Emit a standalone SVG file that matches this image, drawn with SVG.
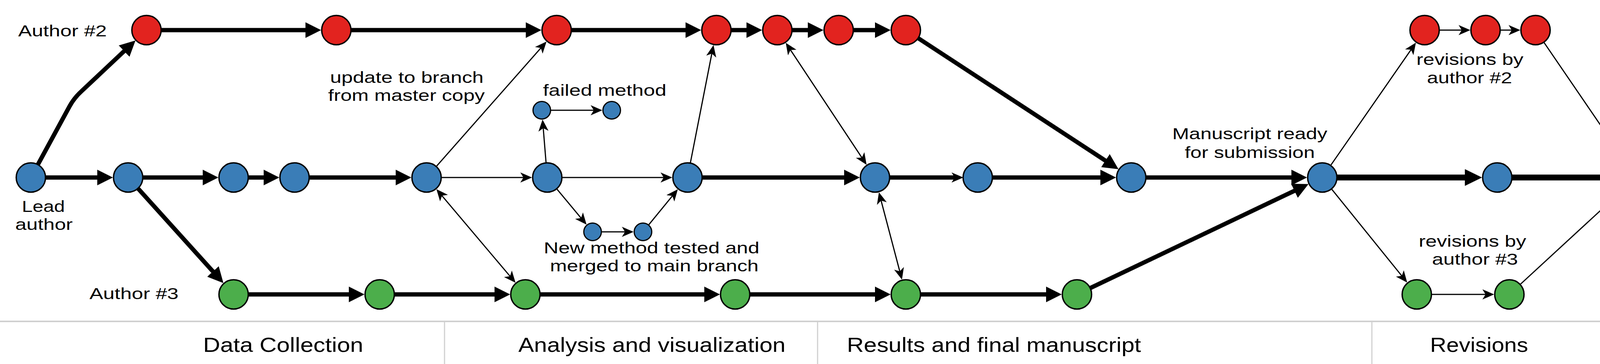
<svg xmlns="http://www.w3.org/2000/svg" width="4270" height="931" viewBox="0 0 4270 931">
<style>
.n{stroke:#000;stroke-width:3.5}
.sm{stroke:#000;stroke-width:3}
.red{fill:#E2231F}
.blue{fill:#3A7DB7}
.green{fill:#4CAE4B}
.thick{stroke:#000;stroke-width:11;fill:none;marker-end:url(#ah)}
.thickt{stroke:#000;stroke-width:11;fill:none;marker-end:url(#at)}
.rev{stroke:#000;stroke-width:15;fill:none;marker-end:url(#ar)}
.thin{stroke:#000;stroke-width:3;fill:none;marker-end:url(#at)}
.both{stroke:#000;stroke-width:3;fill:none;marker-end:url(#at);marker-start:url(#at)}
.sep{stroke:#d0d0d0;fill:none}
text{font-family:"Liberation Sans",Arial,sans-serif;fill:#000;text-anchor:middle}
.lbl{font-size:40.5px}
.sec{font-size:52px}
</style>
<defs>
<marker id="ah" markerUnits="userSpaceOnUse" markerWidth="40" markerHeight="40" refX="10" refY="20" orient="auto"><path d="M0,0 L40,20 L0,40 Z" fill="#000"/></marker>
<marker id="at" markerUnits="userSpaceOnUse" markerWidth="30" markerHeight="26" refX="8" refY="13" orient="auto-start-reverse"><path d="M0,0 L30,13 L0,26 L8,13 Z" fill="#000"/></marker>
<marker id="ar" markerUnits="userSpaceOnUse" markerWidth="44" markerHeight="43" refX="12" refY="21.5" orient="auto"><path d="M0,0 L44,21.5 L0,43 Z" fill="#000"/></marker>
</defs>

<g id="separators">
<line class="sep" x1="0" y1="822" x2="4270" y2="822" stroke-width="4"/>
<line class="sep" x1="1138" y1="822" x2="1138" y2="931" stroke-width="3"/>
<line class="sep" x1="2093" y1="822" x2="2093" y2="931" stroke-width="3"/>
<line class="sep" x1="3512" y1="822" x2="3512" y2="931" stroke-width="3"/>
</g>

<g id="connectors">
<path class="thick" d="M79,454 L178,272 Q190,250 209,233 L325,124"/>
<path class="thick" d="M79,454 L259,454"/>
<path class="thick" d="M328,454 L529,454"/>
<path class="thick" d="M598,454 L685,454"/>
<path class="thick" d="M754,454 L1023,454"/>
<path class="thick" d="M1760,454 L2171,454"/>
<path class="thickt" d="M2240,454 L2444,454"/>
<path class="thick" d="M2503,454 L2827,454"/>
<path class="thick" d="M2896,454 L3316,454"/>
<path class="rev" d="M3385,454 L3762,454"/>
<path class="rev" d="M3833,454 L4118,454"/>
<path class="thick" d="M375,77 L792,77"/>
<path class="thick" d="M861,77 L1356,77"/>
<path class="thick" d="M1425,77 L1765,77"/>
<path class="thick" d="M1834,77 L1921,77"/>
<path class="thick" d="M1990,77 L2078,77"/>
<path class="thick" d="M2147,77 L2250,77"/>
<path class="thick" d="M598,753 L903,753"/>
<path class="thick" d="M972,753 L1276,753"/>
<path class="thick" d="M1345,753 L1813,753"/>
<path class="thick" d="M1882,753 L2250,753"/>
<path class="thick" d="M2319,753 L2688,753"/>
<path class="thick" d="M328,454 L551.8,701.8"/>
<path class="thick" d="M2319,77 L2838.2,416.3"/>
<path class="thick" d="M2757,753 L3322.7,483.7"/>
<path class="thin" d="M1092,454 L1384.6,122.7"/>
<path class="thin" d="M1092,454 L1340,454"/>
<path class="both" d="M1131.4,500.6 L1305.6,706.4"/>
<path class="thin" d="M1401,454 L1390.7,327.8"/>
<path class="thin" d="M1387,282 L1520,282"/>
<path class="thin" d="M1401,454 L1487.5,557.7"/>
<path class="thin" d="M1517,593 L1600,593"/>
<path class="thin" d="M1646,593 L1721.3,501.1"/>
<path class="thin" d="M1401,454 L1699,454"/>
<path class="thin" d="M1760,454 L1822.3,136.9"/>
<path class="both" d="M2023.7,127.8 L2206.3,403.2"/>
<path class="both" d="M2255.6,513 L2303.4,694"/>
<path class="thin" d="M3385,454 L3612.2,127.1"/>
<path class="thin" d="M3647,77 L3742,77"/>
<path class="thin" d="M3803,77 L3870,77"/>
<path class="thin" d="M3931,77 L4154.6,403.7"/>
<path class="thin" d="M3385,454 L3588.6,705.6"/>
<path class="thin" d="M3627,753 L3803,753"/>
<path class="thin" d="M3864,753 L4144.1,495.3"/>
</g>

<g id="nodes">
<g id="lead"><circle class="n blue" cx="79" cy="454" r="37.5"/></g>
<g id="b2"><circle class="n blue" cx="328" cy="454" r="37.5"/></g>
<g id="b3"><circle class="n blue" cx="598" cy="454" r="37.5"/></g>
<g id="b4"><circle class="n blue" cx="754" cy="454" r="37.5"/></g>
<g id="b5"><circle class="n blue" cx="1092" cy="454" r="37.5"/></g>
<g id="b6"><circle class="n blue" cx="1401" cy="454" r="37.5"/></g>
<g id="b7"><circle class="n blue" cx="1760" cy="454" r="37.5"/></g>
<g id="b8"><circle class="n blue" cx="2240" cy="454" r="37.5"/></g>
<g id="b9"><circle class="n blue" cx="2503" cy="454" r="37.5"/></g>
<g id="b10"><circle class="n blue" cx="2896" cy="454" r="37.5"/></g>
<g id="b11"><circle class="n blue" cx="3385" cy="454" r="37.5"/></g>
<g id="b12"><circle class="n blue" cx="3833" cy="454" r="37.5"/></g>
<g id="b13"><circle class="n blue" cx="4189" cy="454" r="37.5"/></g>
<g id="s1"><circle class="sm blue" cx="1387" cy="282" r="22.5"/></g>
<g id="s2"><circle class="sm blue" cx="1566" cy="282" r="22.5"/></g>
<g id="s3"><circle class="sm blue" cx="1517" cy="593" r="22.5"/></g>
<g id="s4"><circle class="sm blue" cx="1646" cy="593" r="22.5"/></g>
<g id="r1"><circle class="n red" cx="375" cy="77" r="37.5"/></g>
<g id="r2"><circle class="n red" cx="861" cy="77" r="37.5"/></g>
<g id="r3"><circle class="n red" cx="1425" cy="77" r="37.5"/></g>
<g id="r4"><circle class="n red" cx="1834" cy="77" r="37.5"/></g>
<g id="r5"><circle class="n red" cx="1990" cy="77" r="37.5"/></g>
<g id="r6"><circle class="n red" cx="2147" cy="77" r="37.5"/></g>
<g id="r7"><circle class="n red" cx="2319" cy="77" r="37.5"/></g>
<g id="r8"><circle class="n red" cx="3647" cy="77" r="37.5"/></g>
<g id="r9"><circle class="n red" cx="3803" cy="77" r="37.5"/></g>
<g id="r10"><circle class="n red" cx="3931" cy="77" r="37.5"/></g>
<g id="g1"><circle class="n green" cx="598" cy="753" r="37.5"/></g>
<g id="g2"><circle class="n green" cx="972" cy="753" r="37.5"/></g>
<g id="g3"><circle class="n green" cx="1345" cy="753" r="37.5"/></g>
<g id="g4"><circle class="n green" cx="1882" cy="753" r="37.5"/></g>
<g id="g5"><circle class="n green" cx="2319" cy="753" r="37.5"/></g>
<g id="g6"><circle class="n green" cx="2757" cy="753" r="37.5"/></g>
<g id="g7"><circle class="n green" cx="3627" cy="753" r="37.5"/></g>
<g id="g8"><circle class="n green" cx="3864" cy="753" r="37.5"/></g>
</g>

<g id="labels">
<text class="lbl" x="160" y="93" textLength="227" lengthAdjust="spacingAndGlyphs">Author #2</text>
<text class="lbl"><tspan x="111" y="542" textLength="110" lengthAdjust="spacingAndGlyphs">Lead</tspan><tspan x="112.5" y="588" textLength="147" lengthAdjust="spacingAndGlyphs">author</tspan></text>
<text class="lbl" x="343" y="765" textLength="228" lengthAdjust="spacingAndGlyphs">Author #3</text>
<text class="lbl"><tspan x="1041.5" y="212" textLength="393" lengthAdjust="spacingAndGlyphs">update to branch</tspan><tspan x="1040.5" y="258" textLength="401" lengthAdjust="spacingAndGlyphs">from master copy</tspan></text>
<text class="lbl" x="1548" y="245" textLength="316" lengthAdjust="spacingAndGlyphs">failed method</text>
<text class="lbl"><tspan x="1668" y="648" textLength="552" lengthAdjust="spacingAndGlyphs">New method tested and</tspan><tspan x="1675" y="694" textLength="534" lengthAdjust="spacingAndGlyphs">merged to main branch</tspan></text>
<text class="lbl"><tspan x="3199.5" y="356" textLength="397" lengthAdjust="spacingAndGlyphs">Manuscript ready</tspan><tspan x="3199.5" y="404" textLength="333" lengthAdjust="spacingAndGlyphs">for submission</tspan></text>
<text class="lbl"><tspan x="3763" y="166" textLength="274" lengthAdjust="spacingAndGlyphs">revisions by</tspan><tspan x="3762" y="213" textLength="218" lengthAdjust="spacingAndGlyphs">author #2</tspan></text>
<text class="lbl"><tspan x="3769.5" y="631" textLength="275" lengthAdjust="spacingAndGlyphs">revisions by</tspan><tspan x="3776" y="677" textLength="220" lengthAdjust="spacingAndGlyphs">author #3</tspan></text>
<text class="sec" x="725" y="900" textLength="410" lengthAdjust="spacingAndGlyphs">Data Collection</text>
<text class="sec" x="1669" y="900" textLength="684" lengthAdjust="spacingAndGlyphs">Analysis and visualization</text>
<text class="sec" x="2544.5" y="900" textLength="753" lengthAdjust="spacingAndGlyphs">Results and final manuscript</text>
<text class="sec" x="3786.5" y="900" textLength="251" lengthAdjust="spacingAndGlyphs">Revisions</text>
</g>
</svg>
